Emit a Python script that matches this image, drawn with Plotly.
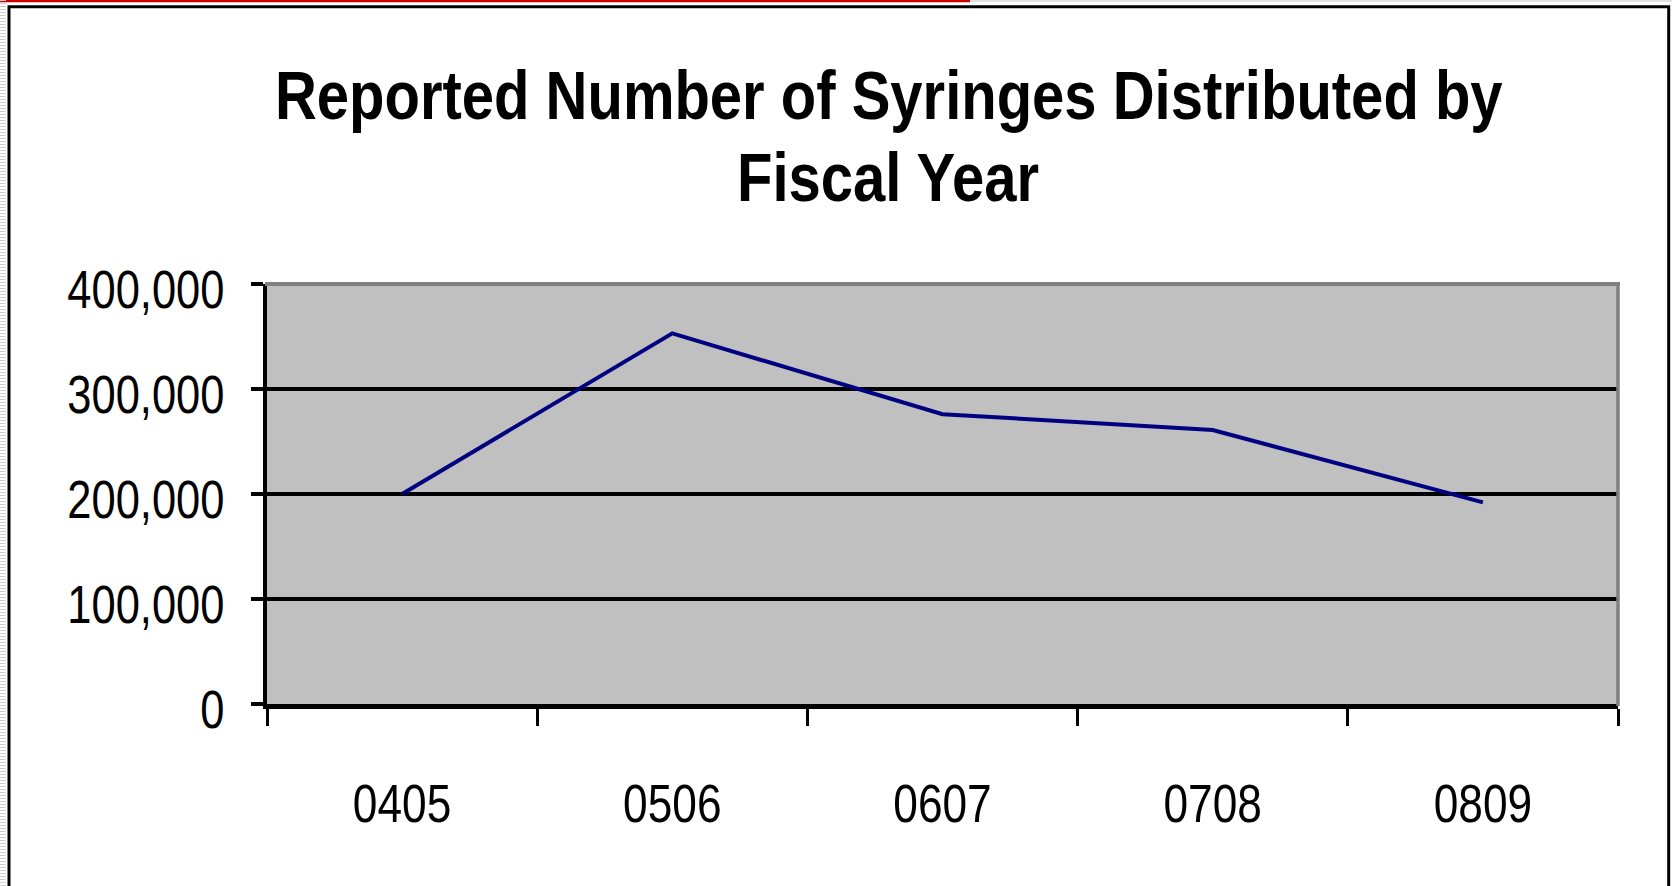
import plotly.graph_objects as go

# ---- data ----
fiscal_years = ["0405", "0506", "0607", "0708", "0809"]
syringes = [200000, 353000, 276000, 261000, 192000]
y_ticks = [0, 100000, 200000, 300000, 400000]
title_line1 = "Reported Number of Syringes Distributed by"
title_line2 = "Fiscal Year"

W, H = 1672, 886
L, R, T, B = 267, 1618, 284, 704  # plot area in pixels

def px(x):
    return (x - L) / (R - L)

def py(y):
    return (B - y) / (B - T)

FONT = "Liberation Sans, Arial, sans-serif"

fig = go.Figure()
fig.add_trace(go.Scatter(
    x=fiscal_years, y=syringes, mode="lines",
    line=dict(color="#000080", width=4),
    hoverinfo="x+y", showlegend=False,
))

fig.update_layout(
    width=W, height=H,
    margin=dict(l=L, r=W - R, t=T, b=H - B, pad=0),
    paper_bgcolor="white",
    plot_bgcolor="#C0C0C0",
    font=dict(family=FONT, color="black"),
    showlegend=False,
)

fig.update_xaxes(
    type="category",
    range=[-0.5, len(fiscal_years) - 0.5],
    tickson="boundaries",
    ticks="outside", ticklen=17, tickwidth=3, tickcolor="black",
    showline=True, linecolor="black", linewidth=4.5,
    showgrid=False, zeroline=False,
    tickfont=dict(family=FONT, size=54, color="black"),
    ticklabelstandoff=48,
)

fig.update_yaxes(
    range=[0, 400000],
    tickvals=y_ticks,
    tickformat=",d",
    ticks="outside", ticklen=12, tickwidth=3.5, tickcolor="black",
    showline=True, linecolor="black", linewidth=4,
    showgrid=True, gridcolor="black", gridwidth=3.5,
    zeroline=False,
    tickfont=dict(family=FONT, size=53, color="black"),
    ticklabelstandoff=16,
    ticklabelshift=5,
)

# title as two annotations for exact line spacing
fig.add_annotation(
    text=title_line1, xref="paper", yref="paper",
    x=px(889), y=py(95), xanchor="center", yanchor="middle",
    showarrow=False, font=dict(family=FONT, size=68, color="black", weight=700),
)
fig.add_annotation(
    text=title_line2, xref="paper", yref="paper",
    x=px(888), y=py(176.5), xanchor="center", yanchor="middle",
    showarrow=False, font=dict(family=FONT, size=68, color="black", weight=700),
)

shapes = [
    # plot area top & right border (gray)
    dict(type="line", xref="paper", yref="paper", x0=px(265), x1=px(1620), y0=1, y1=1,
         line=dict(color="#808080", width=4)),
    dict(type="line", xref="paper", yref="paper", x0=1, x1=1, y0=py(706), y1=py(282.5),
         line=dict(color="#808080", width=3.5)),
    # outer frame
    dict(type="rect", xref="paper", yref="paper", x0=px(9), x1=px(1668.7), y0=py(6.7), y1=py(905),
         line=dict(color="black", width=3), layer="below"),
    # red strip at top
    dict(type="line", xref="paper", yref="paper", x0=px(0), x1=px(970), y0=py(1), y1=py(1),
         line=dict(color="#CC0000", width=2.5)),
    dict(type="line", xref="paper", yref="paper", x0=px(970), x1=px(1672), y0=py(1), y1=py(1),
         line=dict(color="#D8D8D8", width=1.5)),
    # dotted strip on left edge
    dict(type="line", xref="paper", yref="paper", x0=px(3), x1=px(3), y0=py(0), y1=py(886),
         line=dict(color="#CFCFCF", width=6, dash="1px,2px")),
]
fig.update_layout(shapes=shapes)

# page without body margin; narrow (Arial-Narrow-like) text by a horizontal
# scale about each text's own anchor point (text stays real SVG text)
post = """
document.body.style.margin = '0';
var gd = document.getElementById('{plot_id}');
function squeeze(sel, f) {
  gd.querySelectorAll(sel).forEach(function (t) {
    var x = parseFloat(t.getAttribute('x')) || 0;
    var y = parseFloat(t.getAttribute('y')) || 0;
    var tr = t.getAttribute('transform') || '';
    t.setAttribute('transform', tr + ' translate(' + x + ',' + y + ') scale(' + f + ',1) translate(' + (-x) + ',' + (-y) + ')');
  });
}
squeeze('.xtick text', 0.82);
squeeze('.ytick text', 0.82);
squeeze('.annotation-text', 0.853);
"""

fig.write_html("out.html", post_script=post, config={"displayModeBar": False})
